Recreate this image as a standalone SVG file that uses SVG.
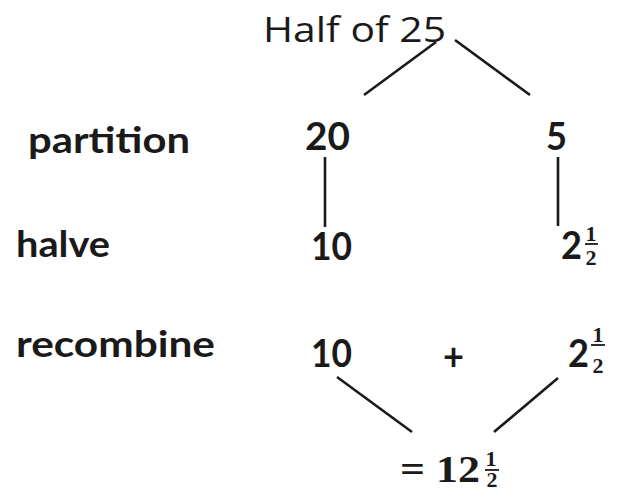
<svg xmlns="http://www.w3.org/2000/svg" width="619" height="492" viewBox="0 0 619 492">
<style>
.title{font-family:"Open Sans","Liberation Sans",sans-serif;font-size:35px;fill:#1a1a1a}
.lbl{font-family:Lato,"Liberation Sans",sans-serif;font-weight:700;font-size:36px;fill:#1a1a1a}
.num{font-family:Lato,"Liberation Sans",sans-serif;font-weight:700;font-size:39px;fill:#1a1a1a}
.ser{font-family:"Liberation Serif","DejaVu Serif",serif;font-weight:700;fill:#1a1a1a}
.fr{font-family:"Liberation Serif","DejaVu Serif",serif;font-weight:700;font-size:22px;fill:#1a1a1a}
.ln{stroke:#1a1a1a;stroke-width:2.6;fill:none}
.bar{stroke:#1a1a1a;stroke-width:1.8}
</style>
<rect width="619" height="492" fill="#fff"/>
<g id="labels">
<text class="lbl" x="28" y="153" textLength="162" lengthAdjust="spacingAndGlyphs">partition</text>
<text class="lbl" x="16" y="257" textLength="94" lengthAdjust="spacingAndGlyphs">halve</text>
<text class="lbl" x="16" y="357" textLength="199" lengthAdjust="spacingAndGlyphs">recombine</text>
</g>
<g id="n-half">
<text class="title" x="263" y="42" textLength="183" lengthAdjust="spacingAndGlyphs">Half of 25</text>
</g>
<g id="n-20"><text class="num" x="305" y="150" textLength="45" lengthAdjust="spacingAndGlyphs">20</text></g>
<g id="n-5"><text class="num" x="546" y="150" textLength="21" lengthAdjust="spacingAndGlyphs">5</text></g>
<g id="n-10a"><text class="num" x="311" y="260" textLength="41" lengthAdjust="spacingAndGlyphs">10</text></g>
<g id="n-2half-a">
<text class="num" x="561" y="259" textLength="21" lengthAdjust="spacingAndGlyphs">2</text>
<text class="fr" text-anchor="middle"><tspan x="591" y="241">1</tspan><tspan x="591" y="265">2</tspan></text>
<line class="bar" x1="585" y1="244" x2="598" y2="244"/>
</g>
<g id="n-10b"><text class="num" x="311" y="367" textLength="41" lengthAdjust="spacingAndGlyphs">10</text></g>
<g id="n-plus"><text class="num" x="443" y="370" textLength="21" lengthAdjust="spacingAndGlyphs">+</text></g>
<g id="n-2half-b">
<text class="num" x="568" y="367" textLength="21" lengthAdjust="spacingAndGlyphs">2</text>
<text class="fr" text-anchor="middle"><tspan x="598" y="342">1</tspan><tspan x="598" y="373">2</tspan></text>
<line class="bar" x1="591" y1="345" x2="605" y2="345"/>
</g>
<g id="n-result">
<text class="ser" x="400" y="482" font-size="38" textLength="80" lengthAdjust="spacingAndGlyphs">= 12</text>
<text class="fr" text-anchor="middle" font-size="19"><tspan x="491" y="466">1</tspan><tspan x="492" y="487">2</tspan></text>
<line class="bar" x1="485" y1="470" x2="499" y2="470"/>
</g>
<g id="connectors">
<line class="ln" x1="436" y1="42" x2="364" y2="95"/>
<line class="ln" x1="455" y1="40" x2="530" y2="95"/>
<line class="ln" x1="325" y1="157" x2="325" y2="227"/>
<line class="ln" x1="558" y1="157" x2="558" y2="226"/>
<line class="ln" x1="337" y1="377" x2="412" y2="432"/>
<line class="ln" x1="558" y1="378" x2="494" y2="432"/>
</g>
</svg>
